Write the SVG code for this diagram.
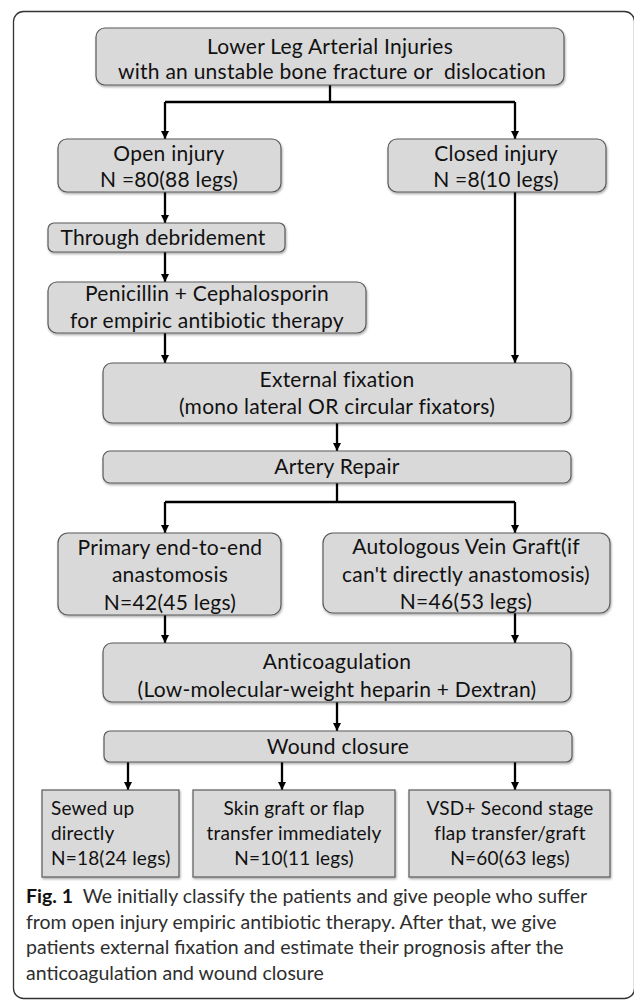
<svg xmlns="http://www.w3.org/2000/svg" width="634" height="1000" viewBox="0 0 634 1000">
<defs>
<marker id="ah" viewBox="0 0 10 10" refX="10" refY="5" markerWidth="8" markerHeight="9" markerUnits="userSpaceOnUse" orient="auto">
<path d="M0,0 L10,5 L0,10 z" fill="#000"/>
</marker>
<filter id="sh" x="-5%" y="-10%" width="110%" height="130%">
<feDropShadow dx="0.8" dy="1.5" stdDeviation="0.9" flood-color="#000" flood-opacity="0.35"/>
</filter>
</defs>
<style>
.box{fill:#d9d9d9;stroke:#5a5a5a;stroke-width:1.2;filter:url(#sh)}
.t{font-family:Lato,"Open Sans","Liberation Sans",sans-serif;font-size:21px;letter-spacing:0.25px;fill:#111;text-anchor:middle}
.s{font-family:Lato,"Open Sans","Liberation Sans",sans-serif;font-size:19px;letter-spacing:0.2px;fill:#111;text-anchor:middle}
.sl{font-family:Lato,"Open Sans","Liberation Sans",sans-serif;font-size:19px;letter-spacing:0.2px;fill:#111}
.c{fill:none;stroke:#000;stroke-width:2.3}
.a{fill:none;stroke:#000;stroke-width:2.3;marker-end:url(#ah)}
.cap{font-family:Lato,"Open Sans","Liberation Sans",sans-serif;font-size:19.5px;fill:#2e2e2e}
</style>
<rect x="13.5" y="11.5" width="621" height="987" rx="10" fill="#fff" stroke="#333" stroke-width="1.3"/>

<g id="connectors">
<path class="c" d="M330,85 V102"/>
<path class="c" d="M165,102 H515"/>
<path class="a" d="M165,102 V139"/>
<path class="a" d="M515,102 V139"/>
<path class="a" d="M165,192 V223"/>
<path class="a" d="M165,252 V282"/>
<path class="a" d="M165,333 V363"/>
<path class="a" d="M515,192 V363"/>
<path class="a" d="M337,423 V451"/>
<path class="c" d="M337,483 V502"/>
<path class="c" d="M165,502 H515"/>
<path class="a" d="M165,502 V533"/>
<path class="a" d="M515,502 V533"/>
<path class="a" d="M165,615 V643"/>
<path class="a" d="M515,613 V643"/>
<path class="a" d="M337,702 V731"/>
<path class="a" d="M128,762 V790"/>
<path class="a" d="M282,762 V790"/>
<path class="a" d="M515,762 V790"/>
</g>

<g id="n-top">
<rect class="box" x="96" y="28" width="468" height="57" rx="9"/>
<text class="t" x="330" y="54">Lower Leg Arterial Injuries</text>
<text class="t" x="332" y="79">with an unstable bone fracture or &#160;dislocation</text>
</g>

<g id="n-open">
<rect class="box" x="58" y="139" width="223" height="53" rx="9"/>
<text class="t" x="169" y="161">Open injury</text>
<text class="t" x="169" y="187">N =80(88 legs)</text>
</g>

<g id="n-closed">
<rect class="box" x="388" y="139" width="218" height="53" rx="9"/>
<text class="t" x="496" y="161">Closed injury</text>
<text class="t" x="496" y="187">N =8(10 legs)</text>
</g>

<g id="n-debride">
<rect class="box" x="48" y="223" width="237" height="29" rx="6"/>
<text class="t" x="163" y="245">Through debridement</text>
</g>

<g id="n-penicillin">
<rect class="box" x="48" y="282" width="318" height="51" rx="9"/>
<text class="t" x="207" y="301">Penicillin + Cephalosporin</text>
<text class="t" x="207" y="328">for empiric antibiotic therapy</text>
</g>

<g id="n-extfix">
<rect class="box" x="103" y="363" width="468" height="60" rx="9"/>
<text class="t" x="337" y="387">External fixation</text>
<text class="t" x="337" y="414">(mono lateral OR circular fixators)</text>
</g>

<g id="n-artery">
<rect class="box" x="103" y="451" width="468" height="32" rx="7"/>
<text class="t" x="337" y="474">Artery Repair</text>
</g>

<g id="n-primary">
<rect class="box" x="58" y="533" width="223" height="82" rx="10"/>
<text class="t" x="170" y="555">Primary end-to-end</text>
<text class="t" x="170" y="582">anastomosis</text>
<text class="t" x="170" y="610">N=42(45 legs)</text>
</g>

<g id="n-autologous">
<rect class="box" x="323" y="533" width="287" height="80" rx="10"/>
<text class="t" x="466" y="554">Autologous Vein Graft(if</text>
<text class="t" x="466" y="582">can't directly anastomosis)</text>
<text class="t" x="466" y="609">N=46(53 legs)</text>
</g>

<g id="n-anticoag">
<rect class="box" x="103" y="643" width="468" height="59" rx="9"/>
<text class="t" x="337" y="669">Anticoagulation</text>
<text class="t" x="337" y="697">(Low-molecular-weight heparin + Dextran)</text>
</g>

<g id="n-wound">
<rect class="box" x="104" y="731" width="468" height="31" rx="6"/>
<text class="t" x="338" y="754">Wound closure</text>
</g>

<g id="n-sewed">
<rect class="box" x="42" y="790" width="137" height="87"/>
<text class="sl" x="51" y="815">Sewed up</text>
<text class="sl" x="51" y="840">directly</text>
<text class="sl" x="51" y="865">N=18(24 legs)</text>
</g>

<g id="n-skin">
<rect class="box" x="193" y="790" width="202" height="87"/>
<text class="s" x="294" y="815">Skin graft or flap</text>
<text class="s" x="294" y="840">transfer immediately</text>
<text class="s" x="294" y="865">N=10(11 legs)</text>
</g>

<g id="n-vsd">
<rect class="box" x="409" y="790" width="201" height="87"/>
<text class="s" x="510" y="815">VSD+ Second stage</text>
<text class="s" x="510" y="840">flap transfer/graft</text>
<text class="s" x="510" y="865">N=60(63 legs)</text>
</g>

<g id="caption">
<text class="cap" x="26" y="903"><tspan font-weight="bold" fill="#111">Fig. 1</tspan>&#160;&#160;We initially classify the patients and give people who suffer</text>
<text class="cap" x="26" y="929">from open injury empiric antibiotic therapy. After that, we give</text>
<text class="cap" x="26" y="954">patients external fixation and estimate their prognosis after the</text>
<text class="cap" x="26" y="980">anticoagulation and wound closure</text>
</g>
</svg>
